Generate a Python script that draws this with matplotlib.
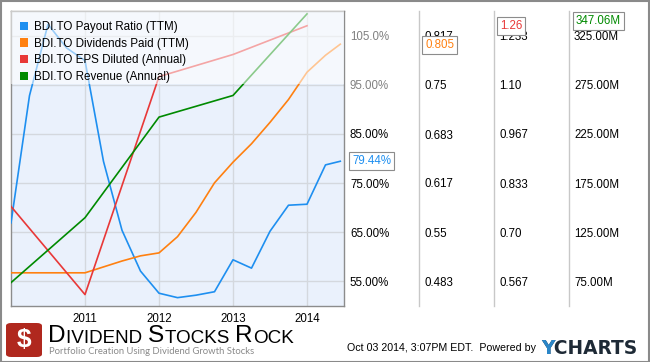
import matplotlib
matplotlib.use("Agg")
import matplotlib.pyplot as plt
from matplotlib.patches import Patch, Rectangle, FancyBboxPatch
from matplotlib.lines import Line2D

plt.rcParams['font.family'] = ['Liberation Sans', 'DejaVu Sans']

# --- Data (fractional years) ---
payout_x = [2010.0, 2010.25, 2010.5, 2010.75, 2011.0, 2011.25, 2011.5, 2011.75,
            2012.0, 2012.25, 2012.5, 2012.75, 2013.0, 2013.25, 2013.5, 2013.75,
            2014.0, 2014.25, 2014.45]
payout_ratio = [66.9, 92.8, 107.3, 102.5, 99.9, 79.4, 65.4, 57.1,
                52.6, 51.7, 52.2, 52.9, 59.4, 57.7, 65.2, 70.5,
                70.7, 78.7, 79.44]

div_x = payout_x
dividends_paid = [0.495, 0.495, 0.495, 0.495, 0.495, 0.503, 0.511, 0.518,
                  0.522, 0.544, 0.577, 0.617, 0.645, 0.670, 0.699, 0.730,
                  0.767, 0.790, 0.805]

annual_x = [2010, 2011, 2012, 2013, 2014]
eps_diluted = [0.770, 0.531, 1.122, 1.182, 1.26]
revenue = [73.8, 139.8, 242.1, 264.1, 347.06]   # millions

year_ticks = [2011, 2012, 2013, 2014]

pct_labels = ["55.00%", "65.00%", "75.00%", "85.00%", "95.00%", "105.0%"]
div_labels = ["0.483", "0.55", "0.617", "0.683", "0.75", "0.817"]
eps_labels = ["0.567", "0.70", "0.833", "0.967", "1.10", "1.233"]
rev_labels = ["75.00M", "125.00M", "175.00M", "225.00M", "275.00M", "325.00M"]

series_names = ["BDI.TO Payout Ratio (TTM)", "BDI.TO Dividends Paid (TTM)",
                "BDI.TO EPS Diluted (Annual)", "BDI.TO Revenue (Annual)"]

# --- Style ---
BLUE = "#1e8ff0"
ORANGE = "#ff8010"
RED = "#e83838"
GREEN = "#008a00"
GRID = "#d4d8de"
BG = "#eaf1fc"
W, H = 650, 362

fig = plt.figure(figsize=(6.5, 3.62), dpi=100)
fig.patch.set_facecolor("white")

L, R, T, B = 11, 344, 11, 306
ax = fig.add_axes([L / W, 1 - B / H, (R - L) / W, (B - T) / H])
ax.set_facecolor(BG)
ax.set_xlim(2010.0, 2014.5)
ax.set_ylim(50, 110)
for s in ax.spines.values():
    s.set_color("#8c8c8c")
    s.set_linewidth(1.0)
ax.set_xticks(year_ticks)
ax.set_xticklabels([str(y) for y in year_ticks])
ax.tick_params(axis="x", length=0, pad=5.0, labelsize=8.3)
ax.grid(True, color=GRID, linewidth=1.0)
ax.set_axisbelow(True)

ax.plot(payout_x, payout_ratio, color=BLUE, lw=1.2, zorder=3)


def make_twin(ylim, labels, values, pad):
    t = ax.twinx()
    t.set_ylim(*ylim)
    t.patch.set_visible(False)
    for s in t.spines.values():
        s.set_visible(False)
    t.set_yticks(values)
    t.set_yticklabels(labels)
    t.tick_params(axis="y", length=0, pad=pad, labelsize=8.3)
    return t


ax_div = make_twin((0.45, 0.85), div_labels, [float(v) for v in div_labels], 57.6)
ax_eps = make_twin((0.5, 1.3), eps_labels, [float(v) for v in eps_labels], 111.6)
ax_rev = make_twin((50, 350), rev_labels, [float(v[:-1]) for v in rev_labels], 165.6)

# percent labels go on the right too (twinx moved them left)
ax.yaxis.tick_right()
ax.set_yticks([float(l.strip("%")) for l in pct_labels])
ax.set_yticklabels(pct_labels)
ax.tick_params(axis="y", length=0, pad=4.3, labelsize=8.3,
               left=False, labelleft=False, right=False, labelright=True)
for lbl in ax.get_yticklabels()[-2:]:
    lbl.set_color("#808080")

ax_div.plot(div_x, dividends_paid, color=ORANGE, lw=1.2, zorder=3)
ax_eps.plot(annual_x, eps_diluted, color=RED, lw=1.2, zorder=3)
ax_rev.plot(annual_x, revenue, color=GREEN, lw=1.2, zorder=3)

# legend band: translucent white over the top of the plot
ax_rev.add_patch(Rectangle((0, 1 - (84 - T) / (B - T)), 1, (84 - T) / (B - T),
                           transform=ax_rev.transAxes, facecolor="white",
                           alpha=0.55, edgecolor="none", zorder=5))
handles = [Patch(facecolor=c, edgecolor="none") for c in (BLUE, ORANGE, RED, GREEN)]
leg = ax_rev.legend(handles, series_names, loc="upper left", frameon=False,
                    bbox_to_anchor=(0.005, 0.99), borderaxespad=0.2,
                    fontsize=8.35, handlelength=0.75, handleheight=0.75,
                    handletextpad=0.45, labelspacing=0.4)
leg.set_zorder(6)

# last-value flags
flag_box = dict(boxstyle="square,pad=0.25", facecolor="white", edgecolor="#8c8c8c", lw=0.8)
last_flags = [
    (ax, payout_ratio[-1], f"{payout_ratio[-1]:.2f}%", BLUE, 8, 0),
    (ax_div, dividends_paid[-1], f"{dividends_paid[-1]:.3f}", ORANGE, 81, -1),
    (ax_eps, eps_diluted[-1], f"{eps_diluted[-1]:.2f}", RED, 156, 0),
    (ax_rev, revenue[-1], f"{revenue[-1]:.2f}M", GREEN, 232, -7),
]
for a, val, txt, col, dx, dy in last_flags:
    a.annotate(txt, xy=(1, val), xycoords=(a.transAxes, a.transData),
               xytext=(dx, dy), textcoords="offset pixels", ha="left", va="center",
               color=col, fontsize=8.3, bbox=flag_box, annotation_clip=False, zorder=10)

# column separators
for xs in (419, 494, 569):
    fig.add_artist(Line2D([xs / W, xs / W], [1 - T / H, 1 - B / H],
                          transform=fig.transFigure, color="#c8c8c8", lw=1.0))

# footer: logo
fig.add_artist(FancyBboxPatch((6 / W, 1 - 357 / H), 36 / W, 34 / H,
                              boxstyle="round,pad=0,rounding_size=0.008",
                              transform=fig.transFigure, facecolor="#b0281e",
                              edgecolor="none"))
fig.text(24 / W, 1 - 340 / H, r"\$", color="white", fontsize=19, fontweight="bold",
         ha="center", va="center")

logo_parts = [("D", 17.6), ("IVIDEND ", 13.6), ("S", 17.6), ("TOCKS ", 13.6),
              ("R", 17.6), ("OCK", 13.6)]
prev = fig.text(48 / W, 1 - 342 / H, logo_parts[0][0], fontsize=logo_parts[0][1],
                color="black", ha="left", va="baseline")
for txt, sz in logo_parts[1:]:
    prev = plt.annotate(txt, xy=(1, 0), xycoords=prev, xytext=(0.4, 0),
                        textcoords="offset points", fontsize=sz, color="black",
                        ha="left", va="bottom", annotation_clip=False)
fig.text(49 / W, 1 - 351 / H, "Portfolio Creation Using Dividend Growth Stocks",
         fontsize=6.8, color="#8a8a8a", family=["Lato", "DejaVu Sans"],
         ha="left", va="center")

# footer: timestamp and ycharts
fig.text(347 / W, 1 - 348 / H, "Oct 03 2014, 3:07PM EDT.  Powered by",
         fontsize=7.7, color="black", ha="left", va="center")
fig.text(541 / W, 1 - 348 / H, "YCHARTS", fontsize=13.4, color="#1e2a36",
         fontweight="bold", family=["DejaVu Sans"], ha="left", va="center")
fig.text(541 / W, 1 - 348 / H, "Y", fontsize=13.4, color="#2a86c8",
         fontweight="bold", family=["DejaVu Sans"], ha="left", va="center")

# outer frame
fig.add_artist(Rectangle((0.5 / W, 0.5 / H), 1 - 1.5 / W, 1 - 1.5 / H,
                         transform=fig.transFigure, fill=False,
                         edgecolor="#8a8a8a", lw=1.5))

fig.savefig("out.png", dpi=100)
